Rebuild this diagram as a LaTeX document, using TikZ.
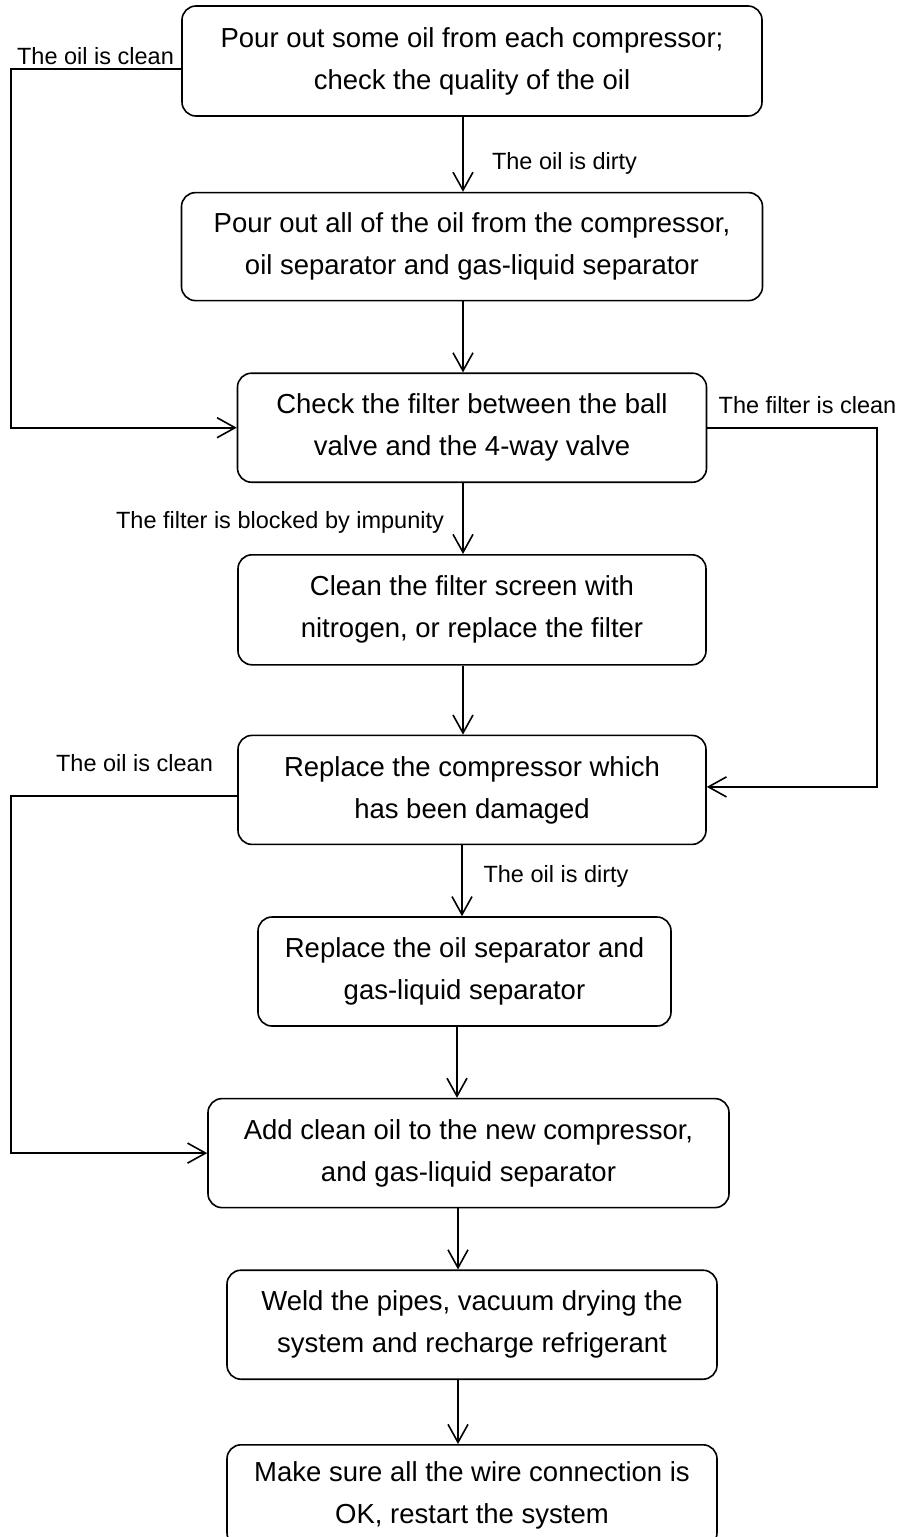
\documentclass[tikz,border=0pt]{standalone}
\usepackage{fontspec}
\setmainfont{Liberation Sans}
\usetikzlibrary{arrows.meta,positioning}

\begin{document}
\begin{tikzpicture}[x=1pt,y=1pt,node distance=35.5pt,
  stepbox/.style={draw,line width=.8pt,rounded corners=7pt,align=center,inner sep=0pt,font=\fontsize{13.75}{21}\selectfont},
  flow/.style={-{Straight Barb[length=9pt,width=10pt]},line width=.8pt},
  lbl/.style={font=\fontsize{11.75}{14}\selectfont,inner sep=0pt}]
\useasboundingbox (0,0) rectangle (449.5,-768.5);
\node[stepbox,minimum width=290pt,minimum height=55pt] (sample) at (236,-30.5) {Pour out some oil from each compressor;\\check the quality of the oil};
\node[stepbox,minimum width=290.5pt,minimum height=54pt,below=37.5pt of sample] (drain) {Pour out all of the oil from the compressor,\\oil separator and gas-liquid separator};
\node[stepbox,minimum width=234.5pt,minimum height=54.5pt,below=of drain] (filter) {Check the filter between the ball\\valve and the 4-way valve};
\node[stepbox,minimum width=234pt,minimum height=55pt,below=of filter] (cleanf) {Clean the filter screen with\\nitrogen, or replace the filter};
\node[stepbox,minimum width=234pt,minimum height=54.5pt,below=34.5pt of cleanf] (replc) {Replace the compressor which\\has been damaged};
\node[stepbox,minimum width=206.5pt,minimum height=54.5pt,below=of replc,xshift=-3.75pt] (repls) {Replace the oil separator and\\gas-liquid separator};
\node[stepbox,minimum width=260.5pt,minimum height=54.5pt,below=of repls,xshift=2pt] (addoil) {Add clean oil to the new compressor,\\and gas-liquid separator};
\node[stepbox,minimum width=245pt,minimum height=54.5pt,below=30.5pt of addoil,xshift=1.75pt] (weld) {Weld the pipes, vacuum drying the\\system and recharge refrigerant};
\node[stepbox,minimum width=245pt,minimum height=51pt,below=32pt of weld] (restart) {Make sure all the wire connection is\\OK, restart the system};
\coordinate (lft) at (5.5,0);
\coordinate (rgt) at (438.5,0);
\foreach \a/\b/\dx in {sample/drain/-4.5,drain/filter/-4.5,filter/cleanf/-4.5,cleanf/replc/-4.5,replc/repls/-5,repls/addoil/-3.75,addoil/weld/-5.25,weld/restart/-7}{\draw[flow] ([xshift=\dx pt]\a.south) coordinate (atop) -- (atop |- \b.north);}
\draw[flow] ([yshift=-4pt]sample.west) -- ([yshift=-4pt]sample.west -| lft) |- (filter.west);
\draw[flow] (filter.east) -- (filter.east -| rgt) |- ([yshift=1.5pt]replc.east);
\draw[flow] ([yshift=-3pt]replc.west) -- ([yshift=-3pt]replc.west -| lft) |- (addoil.west);
\node[lbl] (clean1) at (47.75,-28) {The oil is clean};
\node[lbl] (dirty1) at (282.25,-81.5) {The oil is dirty};
\node[lbl] (fclean) at (403.75,-202.5) {The filter is clean};
\node[lbl] (blocked) at (140,-261) {The filter is blocked by impunity};
\node[lbl] (clean2) at (67.25,-381.5) {The oil is clean};
\node[lbl] (dirty2) at (278,-438) {The oil is dirty};
\end{tikzpicture}
\end{document}
